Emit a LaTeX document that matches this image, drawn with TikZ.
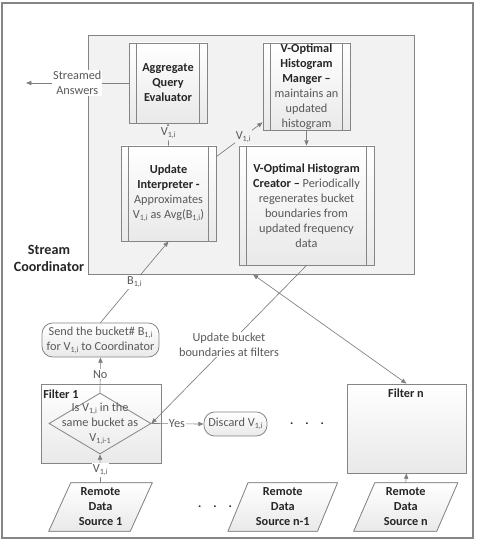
\documentclass[tikz,border=0pt]{standalone}
\usepackage{fontspec}
\setmainfont{Carlito}
\usetikzlibrary{shapes.geometric,arrows.meta}
\definecolor{txtg}{HTML}{595959}
\definecolor{txtb}{HTML}{262626}
\definecolor{bordc}{HTML}{858585}
\definecolor{arrc}{HTML}{7F7F7F}
\definecolor{coordfill}{HTML}{F2F2F2}
\definecolor{shadeb}{HTML}{E9E9E9}
\newcommand{\sbs}[1]{\raisebox{-1.6pt}{\fontsize{6}{6}\selectfont #1}}
\newcommand{\bt}[1]{\textcolor{txtb}{\textbf{#1}}}
\begin{document}
\begin{tikzpicture}[x=0.75pt,y=-0.75pt,
  every node/.style={font=\fontsize{9.2}{11.25}\selectfont, text=txtg},
  sz/.style 2 args={minimum width=#1*0.75pt, minimum height=#2*0.75pt, inner sep=0pt},
  proc/.style={draw=bordc, line width=0.6pt, top color=white, bottom color=shadeb, align=center,
    path picture={
      \draw[bordc, line width=0.6pt] ([xshift=5.6pt]path picture bounding box.north west) -- ([xshift=5.6pt]path picture bounding box.south west);
      \draw[bordc, line width=0.6pt] ([xshift=-5.6pt]path picture bounding box.north east) -- ([xshift=-5.6pt]path picture bounding box.south east);}},
  filt/.style={draw=bordc, line width=0.6pt, top color=white, bottom color=shadeb},
  term/.style={draw=bordc, line width=0.6pt, top color=white, bottom color=shadeb, rounded corners=8pt, align=center},
  para/.style={draw=bordc, line width=0.6pt, top color=white, bottom color=shadeb},
  arr/.style={draw=arrc, line width=0.5pt, -{Triangle[length=4pt,width=3.2pt]}},
  lab/.style={fill=white, inner sep=0.8pt, align=center},
  labc/.style={fill=coordfill, inner sep=0.8pt, align=center}
]
\useasboundingbox (0,0) rectangle (481,545);
% outer frame
\node[draw=bordc, line width=0.8pt, sz={471}{535}] (frame) at (237.5,270.5) {};
% coordinator
\node[draw=bordc, line width=0.6pt, fill=coordfill, sz={326}{239}] (coord) at (251,154.5) {};
\node[align=center, font=\fontsize{10.6}{12.75}\selectfont] (clab) at (49,258.5) {\bt{Stream}\\\bt{Coordinator}};
% processes
\node[proc, sz={78}{80}] (aqe) at (168,83) {\bt{Aggregate}\\\bt{Query}\\\bt{Evaluator}};
\node[proc, sz={87}{87}] (hm) at (306.5,86.5) {\bt{V-Optimal}\\\bt{Histogram}\\\bt{Manger --}\\maintains an\\updated\\histogram};
\node[proc, sz={95}{95}] (ui) at (168.5,193.5) {\bt{Update}\\\bt{Interpreter -}\\Approximates\\V\sbs{1,i} as Avg(B\sbs{1,i})};
\node[proc, sz={135}{119}] (hc) at (306.5,205.5) {\bt{V-Optimal Histogram}\\\bt{Creator --} Periodically\\regenerates bucket\\boundaries from\\updated frequency\\data};
% filters
\node[filt, sz={120}{79}] (f1) at (101,423.5) {};
\node[anchor=west, inner sep=0pt] (f1lab) at (43,394.5) {\bt{Filter 1}};
\node[filt, sz={119}{89}] (fn) at (406.5,428.5) {};
\node[inner sep=0pt] (fnlab) at (406,393.5) {\bt{Filter n}};
% diamond
\node[diamond, draw=bordc, line width=0.6pt, sz={102}{61}] (d) at (100,423.5) {};
\node[align=center, inner sep=0pt] (dtxt) at (100,424) {Is V\sbs{1,i} in the\\same bucket as\\V\sbs{1,i-1}};
% terminators
\node[term, sz={117}{34}] (send) at (100.5,340) {Send the bucket\# B\sbs{1,i}\\for V\sbs{1,i} to Coordinator};
\node[term, sz={63}{24}] (disc) at (235.5,424) {Discard V\sbs{1,i}};
% remote data sources
\node[sz={81}{48}] (r1) at (100.5,507) {};
\filldraw[para] ([xshift=8.25pt]r1.north west) -- ([xshift=8.25pt]r1.north east) -- ([xshift=-8.25pt]r1.south east) -- ([xshift=-8.25pt]r1.south west) -- cycle;
\node[align=center] (r1t) at (r1.center) {\bt{Remote}\\\bt{Data}\\\bt{Source 1}};
\node[sz={89}{48}] (r2) at (282.75,507) {};
\filldraw[para] ([xshift=7.5pt]r2.north west) -- ([xshift=7.5pt]r2.north east) -- ([xshift=-7.5pt]r2.south east) -- ([xshift=-7.5pt]r2.south west) -- cycle;
\node[align=center] (r2t) at (r2.center) {\bt{Remote}\\\bt{Data}\\\bt{Source n-1}};
\node[sz={82.5}{48}] (r3) at (405.75,507) {};
\filldraw[para] ([xshift=7.9pt]r3.north west) -- ([xshift=7.9pt]r3.north east) -- ([xshift=-7.9pt]r3.south east) -- ([xshift=-7.9pt]r3.south west) -- cycle;
\node[align=center] (r3t) at (r3.center) {\bt{Remote}\\\bt{Data}\\\bt{Source n}};
% dots
\node[inner sep=0pt] (dots1) at (307,424) {\bt{.\hspace{9pt}.\hspace{9pt}.}};
\node[inner sep=0pt] (dots2) at (215,507) {\bt{.\hspace{9pt}.\hspace{9pt}.}};
% connectors
\coordinate (saend) at (26,83);
\draw[arr] (aqe.west) -- node[lab, pos=0.5] {Streamed\\Answers} (saend);
\draw[arr] (ui.north) -- node[labc, pos=0.57] {V\sbs{1,i}} (aqe.south);
\draw[arr] ([yshift=-8.25pt]ui.north east) -- node[labc, pos=0.58] {V\sbs{1,i}} ([yshift=6pt]hm.south west);
\draw[arr] (hm.south) -- (hc.north);
\draw[arr] (send.north) -- node[lab, pos=0.5] {B\sbs{1,i}} (ui.south);
\draw[arr] (d.north) -- node[lab, pos=0.52] {No} (send.south);
\draw[arr] (d.east) -- node[lab, pos=0.49] {Yes} (disc.west);
\draw[arr] (r1.north) -- node[lab, pos=0.45] {V\sbs{1,i}} (d.south);
\draw[arr] (r3.north) -- (fn.south);
\draw[draw=arrc, line width=0.5pt, {Triangle[length=4pt,width=3.2pt]}-{Triangle[length=4pt,width=3.2pt]}] ([xshift=1.5pt]coord.south) -- (fn.north);
\draw[arr] (hc.south) -- node[lab, pos=0.5] {Update bucket\\boundaries at filters} (d.east);
\end{tikzpicture}
\end{document}
